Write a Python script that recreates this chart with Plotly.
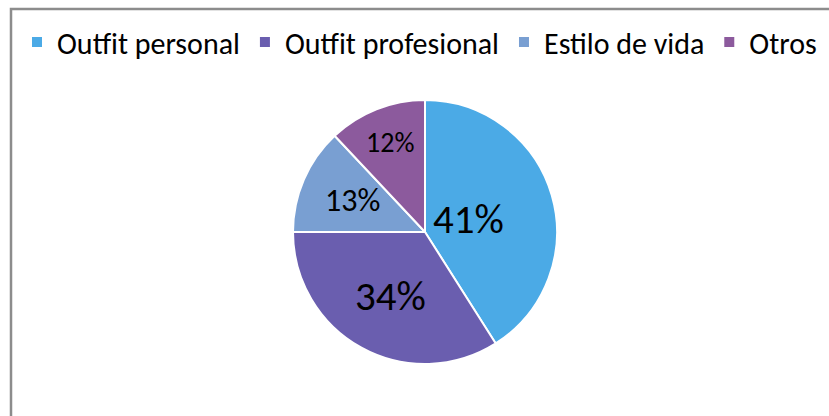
import math
import plotly.graph_objects as go

labels = ["Outfit personal", "Outfit profesional", "Estilo de vida", "Otros"]
values = [41, 34, 13, 12]
colors = ["#4BAAE6", "#6A5EAF", "#799FD2", "#8C5A9D"]
label_sizes = [41, 41, 32, 28]
label_radius = [0.34, 0.55, 0.60, 0.73]   # fraction of pie radius where each label sits

W, H = 829, 416
cx, cy, r = 425, 232, 132
FONT = "Carlito, Lato, sans-serif"

fig = go.Figure(go.Pie(
    labels=labels,
    values=values,
    sort=False,
    direction="clockwise",
    rotation=0,
    marker=dict(colors=colors, line=dict(color="white", width=2)),
    textinfo="none",
    domain=dict(x=[(cx - r) / W, (cx + r) / W], y=[(H - cy - r) / H, (H - cy + r) / H]),
    hoverinfo="label+percent",
))

# percentage labels placed along each slice's bisector (Excel "best fit" look)
total = sum(values)
annotations = []
cum = 0
for v, fs, fr in zip(values, label_sizes, label_radius):
    mid = (cum + v / 2) / total * 2 * math.pi
    cum += v
    px = cx + fr * r * math.sin(mid)
    py = cy - fr * r * math.cos(mid)
    annotations.append(dict(
        x=px / W, y=1 - py / H, xref="paper", yref="paper",
        text=f"{v / total:.0%}", showarrow=False,
        xanchor="center", yanchor="middle",
        font=dict(size=fs, color="black", family=FONT),
    ))

fig.update_layout(
    width=W, height=H,
    margin=dict(l=0, r=0, t=0, b=0),
    paper_bgcolor="white",
    plot_bgcolor="white",
    showlegend=True,
    legend=dict(
        orientation="h",
        x=17 / W, xanchor="left",
        y=1 - 42 / H, yanchor="middle",
        font=dict(size=30, color="black", family=FONT),
        itemwidth=30,
        traceorder="normal",
        bgcolor="rgba(0,0,0,0)",
    ),
    annotations=annotations,
    shapes=[dict(
        type="rect", xref="paper", yref="paper",
        x0=11 / W, x1=1.05, y0=-0.05, y1=1 - 9 / H,
        line=dict(color="#8C8C8C", width=2.5),
        layer="below",
    )],
)

fig.write_html("out.html")
